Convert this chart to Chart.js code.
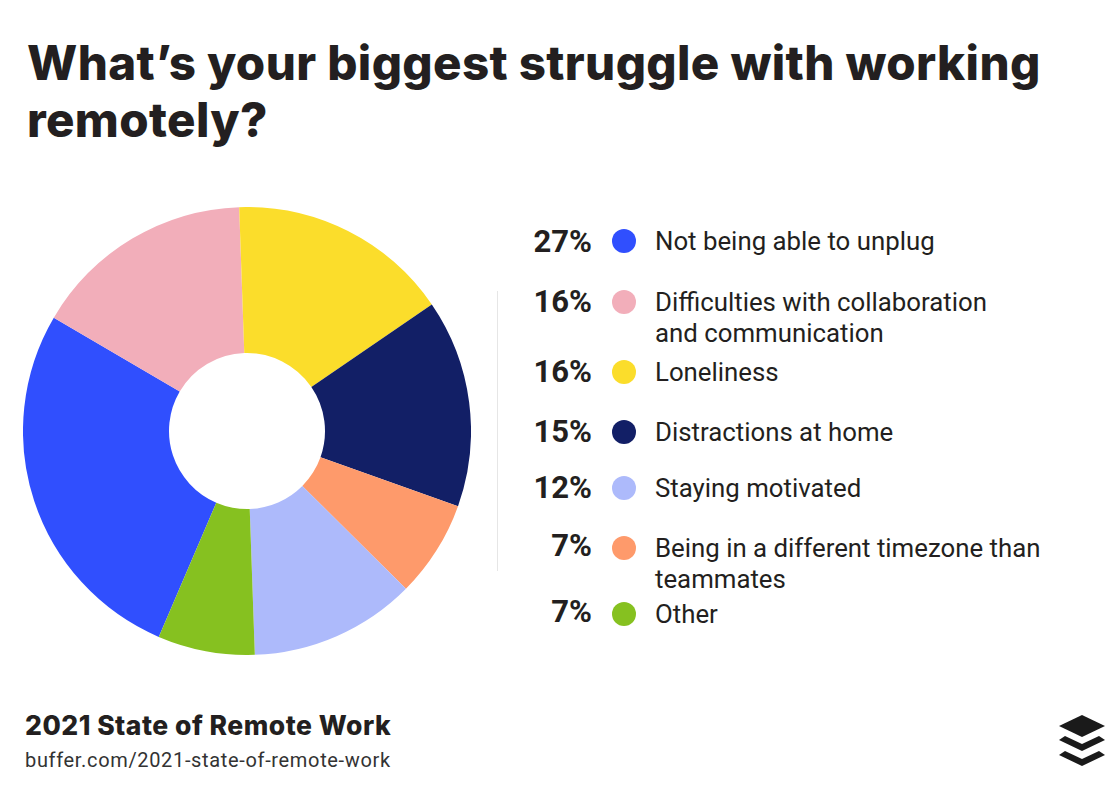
<!DOCTYPE html>
<html>
<head>
<meta charset="utf-8">
<script src="https://cdn.jsdelivr.net/npm/chart.js@4"></script>
<style>
  html, body { margin: 0; padding: 0; background: #fff; }
  #page { position: relative; width: 1111px; height: 790px; overflow: hidden; color: #231f20; font-family: Roboto, sans-serif; }
  #page div { position: absolute; white-space: nowrap; }
  #title { left: 27px; top: 34px; font: 800 47.5px/57px Inter, sans-serif; letter-spacing: 0.35px; }
  #chartBox { left: 23px; top: 207px; width: 448px; height: 448px; }
  #rule { left: 497px; top: 291px; width: 1px; height: 280px; background: #e6e6e6; }
  .pct { left: 500px; width: 92px; text-align: right; font-weight: 700; font-size: 31px; line-height: 34px; }
  .dot { left: 612px; width: 24px; height: 24px; border-radius: 50%; }
  .lab { left: 655px; font-size: 25.8px; line-height: 30px; }
  #src1 { left: 25px; top: 710px; font: 800 26.5px/30px Inter, sans-serif; letter-spacing: 0.5px; }
  #src2 { left: 25px; top: 747px; font: 400 20px/26px Roboto, sans-serif; letter-spacing: 0.66px; color: #333; }
  #logo { position: absolute; left: 1058px; top: 714px; }
</style>
</head>
<body>
<div id="page">
  <div id="title">What’s your biggest struggle with working<br>remotely?</div>
  <div id="chartBox"><canvas id="pie" width="448" height="448"></canvas></div>
  <div id="rule"></div>
  <div id="legend"></div>
  <div id="src1">2021 State of Remote Work</div>
  <div id="src2">buffer.com/2021-state-of-remote-work</div>
  <svg id="logo" width="48" height="54" viewBox="0 0 48 54">
    <path d="M24 1 L47 12 L24 23 L1 12 Z" fill="#1a1a1a"/>
    <path d="M7 22 L24 30 L41 22 L47 26 L24 37 L1 26 Z" fill="#1a1a1a"/>
    <path d="M7 37 L24 45 L41 37 L47 41 L24 52 L1 41 Z" fill="#1a1a1a"/>
  </svg>
</div>
<script>
const categories = [
  ['Not being able to unplug'],
  ['Difficulties with collaboration', 'and communication'],
  ['Loneliness'],
  ['Distractions at home'],
  ['Staying motivated'],
  ['Being in a different timezone than', 'teammates'],
  ['Other']
];
const shares = [27, 16, 16, 15, 12, 7, 7];
const sliceColors = ['#304ffe', '#f2aeba', '#fbdd2b', '#121f66', '#adbafb', '#fe9a6b', '#86c120'];

// the pie goes round in a slightly different order than the legend
const pieOrder = [0, 1, 2, 3, 5, 4, 6];

// layout of the legend rows, y centre of each
const dotRows = [241, 302, 372, 432, 488, 548, 614];
const pctRows = [242, 302, 372, 432, 488, 546, 612];

const legend = document.getElementById('legend');
legend.style.position = 'static';
categories.forEach((lines, i) => {
  const pct = document.createElement('div');
  pct.className = 'pct';
  pct.style.top = (pctRows[i] - 17) + 'px';
  pct.textContent = shares[i] + '%';
  legend.parentNode.appendChild(pct);

  const dot = document.createElement('div');
  dot.className = 'dot';
  dot.style.top = (dotRows[i] - 12) + 'px';
  dot.style.background = sliceColors[i];
  legend.parentNode.appendChild(dot);

  lines.forEach((line, j) => {
    const lab = document.createElement('div');
    lab.className = 'lab';
    lab.style.top = (dotRows[i] - 15 + j * 31) + 'px';
    lab.textContent = line;
    legend.parentNode.appendChild(lab);
  });
});

new Chart(document.getElementById('pie'), {
  type: 'doughnut',
  data: {
    labels: pieOrder.map(i => categories[i].join(' ')),
    datasets: [{
      data: pieOrder.map(i => shares[i]),
      backgroundColor: pieOrder.map(i => sliceColors[i]),
      borderWidth: 0
    }]
  },
  options: {
    responsive: false,
    animation: false,
    rotation: 203.2,
    cutout: 78,
    layout: { padding: 0 },
    plugins: { legend: { display: false }, tooltip: { enabled: false } }
  }
});
</script>
</body>
</html>
